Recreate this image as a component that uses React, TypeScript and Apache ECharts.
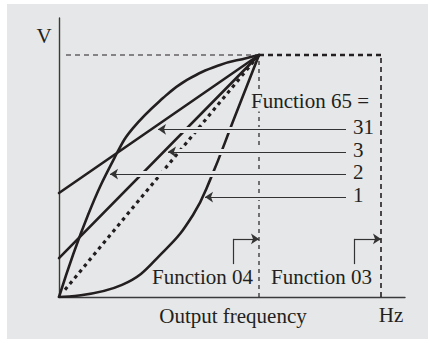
import React, { useEffect, useRef } from "react";
import * as echarts from "echarts";

// ---- data (normalised: x = frequency / base frequency, y = V / max V) ----
const curve1 = [[0, 0], [0.315, 0.05], [0.53, 0.194], [0.67, 0.339], [0.755, 0.483], [0.88, 0.747], [1, 1]];
const curve2 = [[0, 0], [0.145, 0.339], [0.29, 0.595], [0.37, 0.698], [0.52, 0.822], [0.64, 0.897], [0.805, 0.959], [0.94, 0.988], [1, 1]];
const line3 = [[0, 0.161], [1, 1]];
const line31 = [[0, 0.43], [1, 1]];
const linear = [[0.03, 0.03], [1, 1]];

const baseFreq = 1;
const maxFreq = 1.61;
const maxV = 1;

const arrowLabels = ["31", "3", "2", "1"];
const arrowY = [0.693, 0.6, 0.508, 0.413];
const arrowTipX = [0.495, 0.545, 0.255, 0.73];
const arrowStartX = 1.435;

const titleLabel = "Function 65 =";
const f04Label = "Function 04";
const f03Label = "Function 03";
const xName = "Output frequency";
const xUnit = "Hz";
const yName = "V";

const INK = "#231f20";
const BG = "#e6e7e8";
const FONT = '21px "Liberation Serif", "Times New Roman", serif';

export default function App() {
  const ref = useRef<HTMLDivElement>(null);
  useEffect(() => {
    document.body.style.margin = "0";
    const chart = echarts.init(ref.current!, null, { renderer: "svg" });
    const curve = (data: number[][], extra: any = {}) => ({
      type: "line",
      data,
      showSymbol: false,
      symbol: "none",
      silent: true,
      z: 3,
      lineStyle: { color: INK, width: 2.6, cap: "round", join: "round" },
      ...extra,
    });
    const ref_ = (data: number[][], width: number, dash: number[]) => ({
      type: "line",
      data,
      showSymbol: false,
      symbol: "none",
      silent: true,
      z: 2,
      lineStyle: { color: INK, width, type: dash, cap: "butt" },
    });
    const pt = (x: number, y: number, symbol = "none") => ({ coord: [x, y], symbol });
    const option: any = {
      animation: false,
      grid: { left: 59, top: 18, width: 346, height: 279 },
      xAxis: {
        type: "value",
        min: 0,
        max: 1.73,
        axisLine: { show: true, lineStyle: { color: "#3a3a3a", width: 1.4 } },
        axisTick: { show: false },
        axisLabel: { show: false },
        splitLine: { show: false },
      },
      yAxis: {
        type: "value",
        min: 0,
        max: 1.153,
        axisLine: { show: true, lineStyle: { color: "#3a3a3a", width: 1.4 } },
        axisTick: { show: false },
        axisLabel: { show: false },
        splitLine: { show: false },
      },
      series: [
        ref_([[0.035, maxV], [baseFreq, maxV]], 1.2, [5, 4]),
        ref_([[baseFreq, maxV], [1.63, maxV]], 2.6, [5, 4]),
        ref_([[baseFreq, 0], [baseFreq, maxV]], 1.2, [4, 4]),
        ref_([[maxFreq, 0], [maxFreq, maxV]], 1.6, [5, 4]),
        curve(linear, { lineStyle: { color: INK, width: 3.2, type: [3.5, 4], cap: "butt" } }),
        curve(line3),
        curve(line31),
        curve(curve1, { smooth: 0.45 }),
        curve(curve2, { smooth: 0.45 }),
        {
          type: "line",
          data: [[0, 0]],
          showSymbol: false,
          symbol: "none",
          silent: true,
          z: 5,
          lineStyle: { width: 0, opacity: 0 },
          markLine: {
            silent: true,
            symbol: ["none", "none"],
            label: { show: false },
            lineStyle: { color: BG, width: 6, type: "solid", opacity: 1 },
            emphasis: { disabled: true },
            data: arrowY.map((y, i) => [pt(arrowStartX, y), pt(arrowTipX[i] + 0.05, y)]),
          },
        },
        {
          type: "line",
          data: [[0, 0]],
          showSymbol: false,
          symbol: "none",
          silent: true,
          z: 6,
          lineStyle: { width: 0, opacity: 0 },
          markLine: {
            silent: true,
            symbol: ["none", "arrow"],
            symbolSize: 8,
            label: { show: false },
            lineStyle: { color: "#333", width: 1.2, type: "solid", opacity: 1 },
            emphasis: { disabled: true },
            data: [
              ...arrowY.map((y, i) => [pt(arrowStartX, y), pt(arrowTipX[i], y, "arrow")]),
              [pt(0.87, 0.136), pt(0.87, 0.24)],
              [pt(0.87, 0.24), pt(baseFreq, 0.24, "arrow")],
              [pt(1.475, 0.136), pt(1.475, 0.24)],
              [pt(1.475, 0.24), pt(maxFreq, 0.24, "arrow")],
            ],
          },
        },
      ],
    };
    chart.setOption(option);

    const P = (x: number, y: number) => chart.convertToPixel({ gridIndex: 0 }, [x, y]) as number[];
    const txt = (text: string, x: number, y: number, align = "left", bg = false) => ({
      type: "text",
      z: 100,
      silent: true,
      style: {
        text, x, y, fill: INK, font: FONT, textAlign: align, textVerticalAlign: "middle",
        ...(bg ? { backgroundColor: BG, padding: [0, 1] } : {}),
      },
    });
    const labelX = P(1.47, 0)[0];
    chart.setOption({
      graphic: [
        { type: "rect", z: -10, silent: true, shape: { x: 7, y: 4, width: 421, height: 335 }, style: { fill: BG } },
        txt(yName, 44, 36, "center"),
        txt(titleLabel, 250, 101, "left", true),
        ...arrowLabels.map((l, i) => txt(l, labelX, P(0, arrowY[i])[1] - 2)),
        txt(f04Label, 253, 277, "right"),
        txt(f03Label, 271, 277),
        txt(xName, 233, 316, "center"),
        txt(xUnit, 391, 315, "center"),
      ],
    });
    return () => chart.dispose();
  }, []);
  return <div ref={ref} style={{ width: 430, height: 343, background: "#fff" }} />;
}
